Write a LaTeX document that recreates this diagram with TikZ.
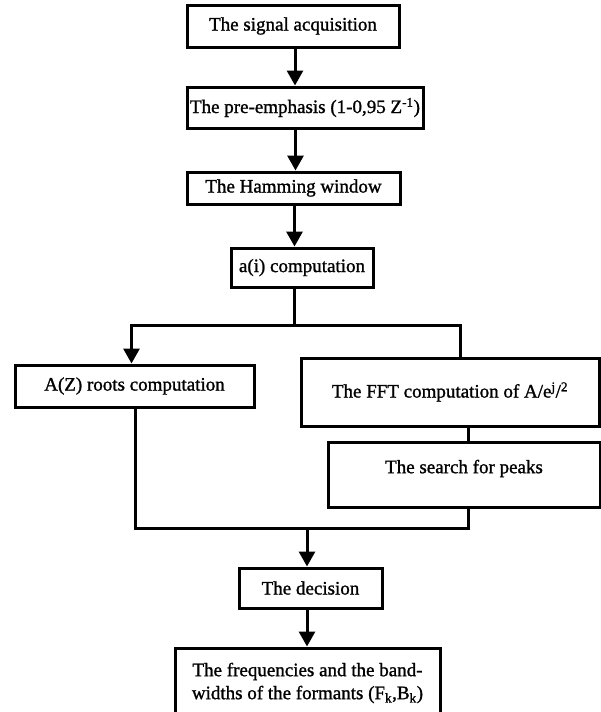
\documentclass[tikz,border=0pt]{standalone}
\usepackage{fontspec}
\setmainfont[FakeBold=1.2]{Liberation Serif}
\usepackage{tikz}
\usetikzlibrary{arrows.meta}

\begin{document}
\begin{tikzpicture}[
  x=1pt, y=-1pt,
  box/.style = {draw, line width=3pt, inner sep=0pt, align=center,
                font=\fontsize{19}{23}\selectfont},
  ln/.style  = {line width=3pt},
  arr/.style = {-{Triangle[length=15pt, width=16pt]}, line width=3pt},
]
  \useasboundingbox (0,0) rectangle (601,712);

  \node[box, minimum width=212, minimum height=42] (acq)   at (293,26)    {The signal acquisition};
  \node[box, minimum width=236, minimum height=41] (pre)   at (305,107.5) {The pre-emphasis (1-0,95 Z\textsuperscript{-1})};
  \node[box, minimum width=213, minimum height=32] (ham)   at (293.5,188) {The Hamming window};
  \node[box, minimum width=142, minimum height=39] (ai)    at (302,267.5) {a(i) computation};

  \node[box, minimum width=239, minimum height=42] (roots) at (134.5,386) {A(Z) roots computation};
  \node[box, minimum width=298, minimum height=68] (fft)   at (450,392)   {The FFT computation of A/e\textsuperscript{j}/\textsuperscript{2}};
  \node[box, minimum width=272, minimum height=65, text depth=16pt] (peaks) at (464,474.5) {The search for peaks};

  \node[box, minimum width=143, minimum height=40] (dec)   at (310.5,588) {The decision};
  \node[box, minimum width=265, minimum height=70] (out)   at (307.5,683) {The frequencies and the band-\\widths of the formants (F\textsubscript{k},B\textsubscript{k})};

  \coordinate (split) at (294,325);
  \coordinate (join)  at (307,528);

  \draw[arr] ([xshift=2]acq.south) -- ([xshift=2]acq.south |- pre.north);
  \draw[arr] ([xshift=2]ham.north |- pre.south) -- ([xshift=2]ham.north);
  \draw[arr] ([xshift=1]ham.south) -- ([xshift=1]ham.south |- ai.north);
  \draw[ln]  (ai.south -| split) -- (split);
  \draw[arr] (split) -| ([xshift=-3]roots.north);
  \draw[ln]  (split) -| ([xshift=10]fft.north);
  \draw[ln]  ([xshift=4]peaks.north |- fft.south) -- ([xshift=4]peaks.north);
  \draw[ln]  ([xshift=1]roots.south) |- (join) -| ([xshift=4]peaks.south);
  \draw[arr] (join) -- (join |- dec.north);
  \draw[arr] (dec.south -| join) -- (join |- out.north);
\end{tikzpicture}
\end{document}
